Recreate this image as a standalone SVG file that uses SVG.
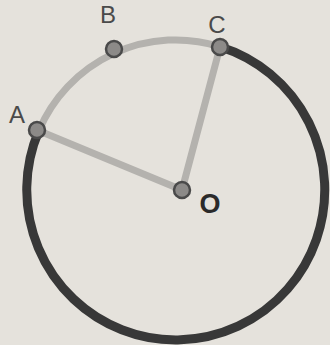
<svg xmlns="http://www.w3.org/2000/svg" width="330" height="345" viewBox="0 0 330 345">
<style>
.lbl{font-family:"Liberation Sans",Arial,sans-serif;font-size:24px;fill:#4a4a4a;text-anchor:middle}
.light{fill:none;stroke:#b4b2ae;stroke-width:7;stroke-linecap:round}
.dark{fill:none;stroke:#383838;stroke-width:9}
.dot{fill:#8c8a88;stroke:#4a4a4a;stroke-width:2.5}
</style>
<rect width="330" height="345" fill="#e5e2dc"/>
<g id="connectors">
<path class="dark" d="M220.1,46.7 A149,150 0 1,1 38.8,130.8"/>
<path class="light" d="M38.8,130.8 A149,150 0 0,1 220.1,46.7"/>
<line class="light" x1="38.8" y1="130.8" x2="182" y2="190"/>
<line class="light" x1="220.1" y1="46.7" x2="182" y2="190"/>
</g>
<g id="A"><circle class="dot" cx="37" cy="130" r="8"/><text class="lbl" x="17" y="123">A</text></g>
<g id="B"><circle class="dot" cx="114" cy="49" r="8"/><text class="lbl" x="108" y="23">B</text></g>
<g id="C"><circle class="dot" cx="220" cy="47" r="8"/><text class="lbl" x="217" y="33">C</text></g>
<g id="O"><circle class="dot" cx="182" cy="190" r="8"/><text class="lbl" x="210" y="213" style="font-size:27px;font-weight:bold;fill:#2a2a2a">O</text></g>
</svg>
